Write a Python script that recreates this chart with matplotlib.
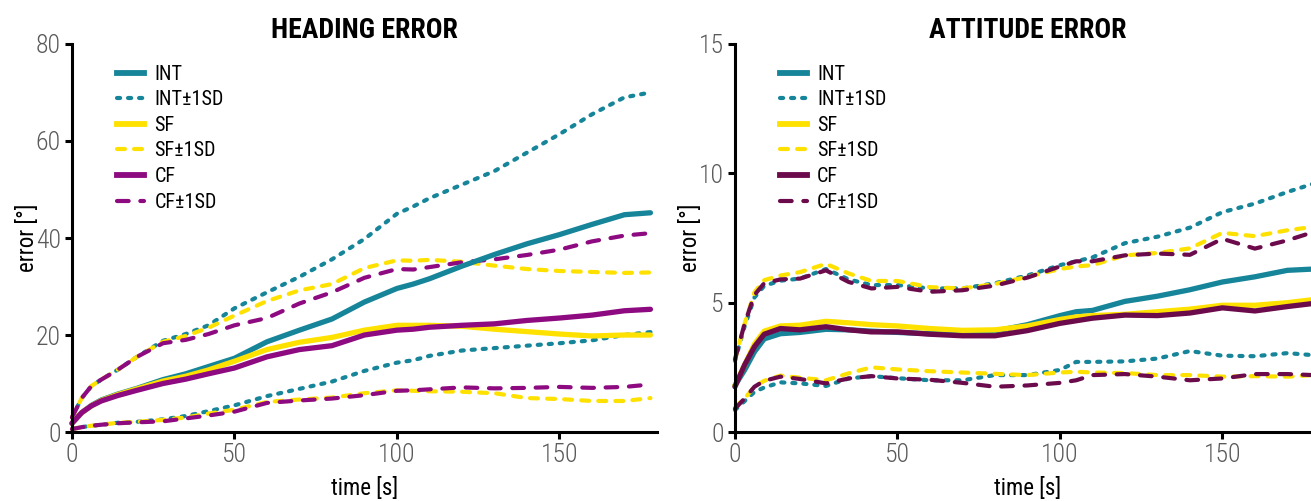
import matplotlib
matplotlib.use('Agg')
import matplotlib.pyplot as plt
from matplotlib import font_manager

# time axis [s]
t = [0, 3, 6, 9, 14, 20, 28, 35, 42, 50, 60, 70, 80, 90, 100, 105, 110, 120, 130, 140, 150, 160, 170, 178]

# heading error [deg]
head_int = [1.8, 4.0, 5.5, 6.6, 7.8, 9.0, 10.8, 12.0, 13.5, 15.2, 18.6, 21.0, 23.3, 26.8, 29.6, 30.5, 31.6, 34.2, 36.6, 38.8, 40.7, 42.8, 44.8, 45.2]
head_int_hi = [3.0, 7.0, 9.5, 10.8, 12.8, 15.5, 18.8, 20.2, 22.0, 25.5, 28.8, 32.0, 35.6, 39.8, 45.0, 46.5, 48.2, 51.0, 53.8, 57.6, 61.4, 65.5, 69.0, 70.0]
head_int_lo = [0.6, 1.0, 1.3, 1.5, 1.9, 2.1, 2.6, 3.3, 4.3, 5.5, 7.4, 8.9, 10.4, 12.6, 14.3, 14.8, 15.7, 16.8, 17.3, 17.8, 18.3, 18.9, 20.0, 20.6]
head_sf = [1.8, 4.0, 5.4, 6.5, 7.7, 8.9, 10.5, 11.5, 12.8, 14.6, 17.0, 18.5, 19.5, 21.0, 22.0, 22.0, 22.0, 21.8, 21.2, 20.7, 20.2, 19.8, 20.0, 20.0]
head_sf_hi = [3.0, 7.0, 9.5, 10.8, 12.8, 15.5, 18.6, 19.8, 21.5, 24.0, 27.0, 29.2, 30.5, 33.8, 35.4, 35.3, 35.5, 35.1, 34.3, 33.6, 33.2, 33.0, 32.8, 32.9]
head_sf_lo = [0.6, 1.0, 1.3, 1.5, 1.9, 2.1, 2.5, 3.0, 3.8, 4.6, 6.2, 6.7, 7.1, 8.0, 8.6, 8.5, 8.4, 8.3, 8.0, 7.0, 6.8, 6.4, 6.4, 7.0]
head_cf = [1.8, 4.0, 5.4, 6.4, 7.5, 8.6, 10.0, 10.9, 12.0, 13.2, 15.5, 17.0, 17.8, 20.0, 21.0, 21.2, 21.6, 22.0, 22.3, 23.0, 23.5, 24.1, 25.0, 25.3]
head_cf_hi = [3.0, 7.0, 9.5, 10.8, 12.8, 15.5, 18.3, 19.0, 20.2, 22.0, 23.5, 26.5, 28.8, 31.8, 33.6, 33.5, 34.0, 35.0, 35.6, 36.5, 37.6, 39.3, 40.5, 41.0]
head_cf_lo = [0.6, 1.0, 1.3, 1.5, 1.8, 2.0, 2.2, 2.8, 3.4, 4.2, 6.0, 6.5, 6.9, 7.6, 8.5, 8.6, 8.8, 9.2, 9.0, 9.1, 9.3, 9.1, 9.3, 9.8]

# attitude error [deg]
att_int = [1.8, 2.4, 3.1, 3.6, 3.8, 3.85, 3.97, 3.95, 3.9, 3.85, 3.8, 3.82, 3.9, 4.15, 4.5, 4.65, 4.7, 5.05, 5.25, 5.5, 5.8, 6.0, 6.25, 6.3]
att_int_hi = [2.75, 4.1, 5.2, 5.65, 5.85, 5.93, 6.3, 5.9, 5.68, 5.68, 5.55, 5.55, 5.75, 6.05, 6.45, 6.6, 6.75, 7.3, 7.55, 7.9, 8.5, 8.83, 9.28, 9.6]
att_int_lo = [0.85, 1.2, 1.55, 1.72, 1.92, 1.88, 1.78, 2.07, 2.16, 2.08, 2.0, 2.0, 2.2, 2.2, 2.4, 2.71, 2.71, 2.73, 2.84, 3.13, 2.95, 2.93, 3.05, 2.97]
att_sf = [1.8, 2.6, 3.4, 3.9, 4.1, 4.13, 4.28, 4.22, 4.15, 4.1, 4.0, 3.93, 3.95, 4.1, 4.35, 4.45, 4.5, 4.55, 4.65, 4.75, 4.9, 4.9, 5.0, 5.12]
att_sf_hi = [2.8, 4.2, 5.4, 5.87, 6.05, 6.18, 6.5, 6.13, 5.84, 5.84, 5.6, 5.55, 5.72, 6.0, 6.3, 6.4, 6.45, 6.83, 6.92, 7.1, 7.7, 7.57, 7.8, 7.93]
att_sf_lo = [0.95, 1.3, 1.75, 1.98, 2.18, 2.1, 2.0, 2.27, 2.5, 2.42, 2.35, 2.3, 2.25, 2.2, 2.3, 2.33, 2.3, 2.28, 2.2, 2.2, 2.14, 2.16, 2.14, 2.2]
att_cf = [1.75, 2.6, 3.3, 3.78, 4.0, 3.95, 4.07, 3.95, 3.87, 3.87, 3.78, 3.72, 3.72, 3.92, 4.2, 4.3, 4.4, 4.52, 4.5, 4.6, 4.8, 4.68, 4.85, 4.97]
att_cf_hi = [2.8, 4.2, 5.3, 5.75, 5.9, 5.93, 6.25, 5.8, 5.55, 5.61, 5.42, 5.48, 5.66, 5.97, 6.4, 6.6, 6.6, 6.83, 6.9, 6.85, 7.47, 7.09, 7.41, 7.73]
att_cf_lo = [0.9, 1.3, 1.75, 1.98, 2.14, 2.05, 1.88, 2.07, 2.16, 2.07, 2.02, 1.9, 1.75, 1.8, 1.9, 2.0, 2.2, 2.24, 2.14, 2.0, 2.07, 2.24, 2.24, 2.2]

teal = '#16859a'
yellow = '#ffe100'
purple_l = '#8d0a80'
purple_r = '#6c0b4c'

# pick a narrow face if there is one
names = {f.name for f in font_manager.fontManager.ttflist}
narrow = 'DejaVu Sans'
for cand in ['Liberation Sans Narrow', 'Roboto Condensed', 'Open Sans Condensed', 'Arial Narrow']:
    if cand in names:
        narrow = cand
        break
plt.rcParams['font.family'] = [narrow, 'DejaVu Sans']
plt.rcParams['font.stretch'] = 'condensed'

DOT = (0, (0.75, 1.9))
DASH = (0, (1.9, 2.2))
LDASH = (0, (2.8, 2.8))


def draw_panel(ax, title, ymax, yticks, series, cf_color):
    (m_int, hi_int, lo_int, m_sf, hi_sf, lo_sf, m_cf, hi_cf, lo_cf) = series
    kw_m = dict(lw=3.8, solid_capstyle='round', solid_joinstyle='round', clip_on=False)
    kw_d = dict(lw=3.0, dash_capstyle='round', clip_on=False)
    # bands first, means on top
    ax.plot(t, hi_int, color=teal, ls=DOT, **kw_d)
    ax.plot(t, lo_int, color=teal, ls=DOT, **kw_d)
    ax.plot(t, hi_sf, color=yellow, ls=DASH, **kw_d)
    ax.plot(t, lo_sf, color=yellow, ls=DASH, **kw_d)
    ax.plot(t, hi_cf, color=cf_color, ls=LDASH, **kw_d)
    ax.plot(t, lo_cf, color=cf_color, ls=LDASH, **kw_d)
    ax.plot(t, m_int, color=teal, **kw_m)
    ax.plot(t, m_sf, color=yellow, **kw_m)
    ax.plot(t, m_cf, color=cf_color, **kw_m)

    handles = [
        plt.Line2D([], [], color=teal, lw=4.2),
        plt.Line2D([], [], color=teal, lw=3.0, ls=DOT, dash_capstyle='round'),
        plt.Line2D([], [], color=yellow, lw=4.2),
        plt.Line2D([], [], color=yellow, lw=3.0, ls=DASH, dash_capstyle='round'),
        plt.Line2D([], [], color=cf_color, lw=4.2),
        plt.Line2D([], [], color=cf_color, lw=3.0, ls=LDASH, dash_capstyle='round'),
    ]
    labels = ['INT', 'INT\u00b11SD', 'SF', 'SF\u00b11SD', 'CF', 'CF\u00b11SD']
    ax.legend(handles, labels, loc='upper left', bbox_to_anchor=(0.077, 0.947),
              frameon=False, fontsize=14.5, handlelength=1.35, handletextpad=0.5,
              labelspacing=0.33, borderpad=0, borderaxespad=0)

    ax.set_xlim(0, 180)
    ax.set_ylim(0, ymax)
    ax.set_xticks([0, 50, 100, 150])
    ax.set_yticks(yticks)
    ax.spines['top'].set_visible(False)
    ax.spines['right'].set_visible(False)
    for s in ('left', 'bottom'):
        ax.spines[s].set_linewidth(2.2)
        ax.spines[s].set_color('black')
    ax.tick_params(width=2.2, length=5, direction='out', labelsize=18.5,
                   labelcolor='#5a5a5a', pad=3)
    for lab in ax.get_xticklabels() + ax.get_yticklabels():
        lab.set_fontweight('light')
    ax.set_title(title, fontsize=20, fontweight='bold', pad=4)
    ax.set_xlabel('time [s]', fontsize=16.5, labelpad=7)
    ax.set_ylabel('error [\u00b0]', fontsize=16.5, labelpad=-2)


fig = plt.figure(figsize=(13.11, 5.01), dpi=100)
ax1 = fig.add_axes([0.0549, 0.1377, 0.4462, 0.7745])
ax2 = fig.add_axes([0.5606, 0.1377, 0.4462, 0.7745])

draw_panel(ax1, 'HEADING ERROR', 80, [0, 20, 40, 60, 80],
           (head_int, head_int_hi, head_int_lo, head_sf, head_sf_hi, head_sf_lo,
            head_cf, head_cf_hi, head_cf_lo), purple_l)
draw_panel(ax2, 'ATTITUDE ERROR', 15, [0, 5, 10, 15],
           (att_int, att_int_hi, att_int_lo, att_sf, att_sf_hi, att_sf_lo,
            att_cf, att_cf_hi, att_cf_lo), purple_r)

fig.savefig('out.png', dpi=100)
